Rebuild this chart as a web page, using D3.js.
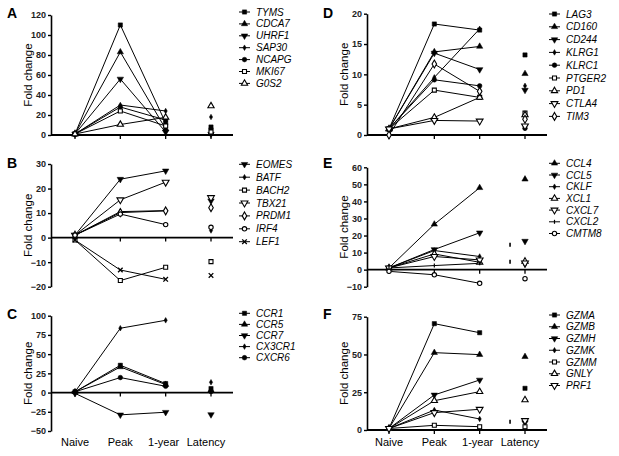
<!DOCTYPE html>
<html><head><meta charset="utf-8">
<script src="https://cdn.jsdelivr.net/npm/d3@7"></script>
<style>
body{margin:0;background:#fff;}
svg{display:block;font-family:"Liberation Sans",Arial,sans-serif;}
</style></head>
<body><svg id="c" width="619" height="456"></svg>
<script>
const categories = ["Naive","Peak","1-year","Latency"];

// Panel A
const genesA = ["TYMS","CDCA7","UHRF1","SAP30","NCAPG","MKI67","G0S2"];
const valuesA = [[1,110,12,8],[1,83,6,2],[1,56,3,1],[1,30,24,18],[1,28,15,6],[1,24,9,3],[1,10.5,17.7,29]];
const symbolsA = ["square","triangle","triangleDown","diamondSmall","circle","squareOpen","triangleOpen"];
const ticksA = [0,20,40,60,80,100,120];

// Panel B
const genesB = ["EOMES","BATF","BACH2","TBX21","PRDM1","IRF4","LEF1"];
const valuesB = [[1,23.8,27.2,15],[1,10.6,11,2.9],[-1,-17.5,-12.1,-9.8],[1,15.4,22.6,16.3],[1,10.2,10.9,12.2],[1,9.6,5.3,4.2],[-1,-13.2,-17,-15.4]];
const symbolsB = ["triangleDown","diamondSmall","squareOpen","triangleDownOpen","diamondOpen","circleOpen","x"];
const ticksB = [-20,-10,0,10,20,30];

// Panel C
const genesC = ["CCR1","CCR5","CCR7","CX3CR1","CXCR6"];
const valuesC = [[1,35.5,11.7,5.2],[1,33.4,10.4,3],[-1,-29,-25.6,-28.6],[1,83.7,94,13.4],[1,19.5,8.2,1.3]];
const symbolsC = ["square","triangle","triangleDown","diamondSmall","circle"];
const ticksC = [-50,-25,0,25,50,75,100];

// Panel D
const genesD = ["LAG3","CD160","CD244","KLRG1","KLRC1","PTGER2","PD1","CTLA4","TIM3"];
const valuesD = [[1,18.3,17.3,13.2],[1,13.7,14.6,10.1],[1,13.5,10.8,7.4],[1,9.5,17.5,8.1],[1,9.1,8.1,1.1],[1,7.4,6.2,3.6],[1,2.9,6.2,3.3],[1,2.4,2.3,1.5],[0,11.7,7.2,2.6]];
const symbolsD = ["square","triangle","triangleDown","diamondSmall","circle","squareOpen","triangleOpen","triangleDownOpen","diamondOpen"];
const ticksD = [0,5,10,15,20];

// Panel E
const genesE = ["CCL4","CCL5","CKLF","XCL1","CXCL7","CXCL2","CMTM8"];
const valuesE = [[1,26.6,48,53],[1,11.8,21.6,16.7],[1,11.2,7.7,2.8],[1,9.2,4.3,4.9],[1,7.7,5.7,3.9],[1,2.4,3.7,null],[-1,-3,-8,-5.3]];
const symbolsE = ["triangle","triangleDown","diamondSmall","triangleOpen","triangleDownOpen","tick","circleOpen"];
const ticksE = [-10,0,10,20,30,40,50,60];
const strayE = [14.6,4.7];

// Panel F
const genesF = ["GZMA","GZMB","GZMH","GZMK","GZMM","GNLY","PRF1"];
const valuesF = [[1,70.4,64.4,27.6],[1,51.2,49.9,48.5],[1,23.2,33.1,4.9],[1,13.2,7.3,1.3],[1,3.1,2.2,2.2],[1,19.4,25.4,19.9],[1,11.5,13.7,6.2]];
const symbolsF = ["square","triangle","triangleDown","diamondSmall","squareOpen","triangleOpen","triangleDownOpen"];
const ticksF = [0,25,50,75];
const strayF = [5.5];

const panels = [
 {letter:"A", genes:genesA, values:valuesA, symbols:symbolsA, ticks:ticksA, stray:[],
  axisX:51, xr:[75,211], xEnd:233, yr:[135,15], lx:239, ly:12, ls:11.9, letterY:18, xlabels:false},
 {letter:"B", genes:genesB, values:valuesB, symbols:symbolsB, ticks:ticksB, stray:[],
  axisX:51, xr:[75,211], xEnd:233, yr:[286.7,164], lx:239, ly:164.3, ls:12.9, letterY:168, xlabels:false},
 {letter:"C", genes:genesC, values:valuesC, symbols:symbolsC, ticks:ticksC, stray:[],
  axisX:51, xr:[75,211], xEnd:233, yr:[431,315.7], lx:239, ly:313.3, ls:11.1, letterY:319, xlabels:true},
 {letter:"D", genes:genesD, values:valuesD, symbols:symbolsD, ticks:ticksD, stray:[],
  axisX:367, xr:[389,525], xEnd:547, yr:[135,13.7], lx:549, ly:14, ls:12.8, letterY:18, xlabels:false},
 {letter:"E", genes:genesE, values:valuesE, symbols:symbolsE, ticks:ticksE, stray:strayE,
  axisX:367, xr:[389,525], xEnd:547, yr:[286.7,167.3], lx:549, ly:163.3, ls:11.7, letterY:168, xlabels:false},
 {letter:"F", genes:genesF, values:valuesF, symbols:symbolsF, ticks:ticksF, stray:strayF,
  axisX:367, xr:[389,525], xEnd:547, yr:[430,316.7], lx:549, ly:315, ls:11.75, letterY:319, xlabels:true}
];

const svg = d3.select("#c");

const downTri = {draw(ctx, size){ const s=Math.sqrt(size/(Math.sqrt(3)/4)); const h=s*Math.sqrt(3)/2;
  ctx.moveTo(-s/2,-h/3); ctx.lineTo(s/2,-h/3); ctx.lineTo(0,2*h/3); ctx.closePath(); }};

function drawMarker(g, type, x, y){
  const open = /Open$/.test(type);
  const base = type.replace("Open","");
  let path;
  if(base==="x"){
    g.append("path").attr("d","M-2.3,-2.3L2.3,2.3M-2.3,2.3L2.3,-2.3").attr("transform",`translate(${x},${y})`)
     .attr("stroke","#000").attr("stroke-width",1.3).attr("fill","none");
    return;
  }
  if(base==="tick"){
    g.append("path").attr("d","M0,-2L0,2").attr("transform",`translate(${x},${y})`)
     .attr("stroke","#000").attr("stroke-width",1.2);
    return;
  }
  if(base==="square"){ path=d3.symbol(d3.symbolSquare, open?16:18)(); }
  else if(base==="triangle"){ path=d3.symbol(d3.symbolTriangle, 17)(); }
  else if(base==="triangleDown"){ path=d3.symbol(downTri, open?20:18)(); }
  else if(base==="diamondSmall"){ path=d3.symbol(d3.symbolDiamond, 9)(); }
  else if(base==="diamond"){ path=d3.symbol(d3.symbolDiamond, 18)(); }
  else if(base==="circle"){ path=d3.symbol(d3.symbolCircle, open?15:17)(); }
  g.append("path").attr("d",path).attr("transform",`translate(${x},${y})`)
   .attr("fill", open?"#fff":"#000").attr("stroke","#000").attr("stroke-width",open?1.1:0.5);
}

panels.forEach(p=>{
  const x = d3.scalePoint().domain(categories).range(p.xr);
  const dom = d3.extent(p.ticks);
  const y = d3.scaleLinear().domain(dom).range(p.yr);
  const g = svg.append("g");

  // y axis
  const ya = g.append("g").attr("transform",`translate(${p.axisX},0)`)
    .call(d3.axisLeft(y).tickValues(p.ticks).tickSize(3).tickSizeOuter(0).tickPadding(2));
  ya.select(".domain").attr("stroke-width",1.6);
  ya.selectAll(".tick line").attr("stroke-width",1.4);
  ya.selectAll("text").attr("font-size",9).attr("font-weight","bold").attr("fill","#222");

  // x axis at zero
  const xa = g.append("g").attr("transform",`translate(0,${y(0)})`);
  xa.append("line").attr("x1",p.axisX).attr("x2",p.xEnd).attr("stroke","#000").attr("stroke-width",1.8);
  xa.selectAll(".xt").data(categories).enter().append("line")
    .attr("x1",d=>x(d)).attr("x2",d=>x(d)).attr("y1",0).attr("y2",4).attr("stroke","#000").attr("stroke-width",1.3);
  if(p.xlabels){
    svg.append("g").selectAll("text").data(categories).enter().append("text")
      .attr("x",d=>x(d) - (d==="Latency"?5:0) - (d==="1-year"?2:0)).attr("y",446).attr("text-anchor","middle")
      .attr("font-size",11).text(d=>d);
  }

  // y label
  const yc = (p.yr[0]+p.yr[1])/2;
  g.append("text").attr("transform",`translate(${p.axisX-19},${yc}) rotate(-90)`)
    .attr("text-anchor","middle").attr("font-size",11.5).text("Fold change");
  // letter
  g.append("text").attr("x",p.axisX-44).attr("y",p.letterY).attr("font-size",14).attr("font-weight","bold").text(p.letter);

  // lines
  const line = d3.line().x((d,i)=>x(categories[i])).y(d=>y(d));
  p.values.forEach((v,k)=>{
    g.append("path").attr("d",line(v.slice(0,3))).attr("fill","none").attr("stroke","#000").attr("stroke-width",1);
  });
  p.values.forEach((v,k)=>{
    for(let i=0;i<4;i++){
      if(v[i]==null) continue;
      drawMarker(g, p.symbols[k], x(categories[i]), y(v[i]));
    }
  });
  p.stray.forEach(s=>{
    g.append("path").attr("d","M0,-2L0,2").attr("transform",`translate(${x("Latency")-x.step()*0.33},${y(s)})`)
     .attr("stroke","#000").attr("stroke-width",1.6);
  });

  // legend
  const lg = g.append("g");
  p.genes.forEach((gn,k)=>{
    const ly = p.ly + k*p.ls;
    lg.append("line").attr("x1",p.lx).attr("x2",p.lx+11).attr("y1",ly).attr("y2",ly).attr("stroke","#000").attr("stroke-width",1);
    drawMarker(lg, p.symbols[k], p.lx+5.5, ly);
    lg.append("text").attr("x",p.lx+17).attr("y",ly).attr("dy","0.35em").attr("font-size",10)
      .attr("font-style","italic").text(gn);
  });
});
</script></body></html>
